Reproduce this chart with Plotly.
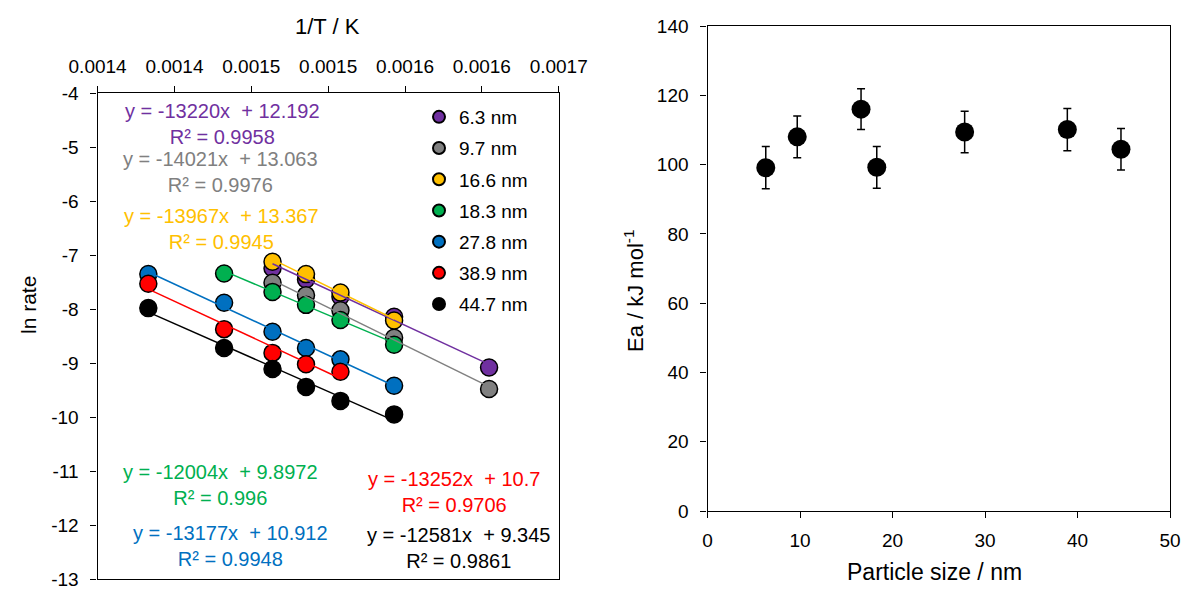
import plotly.graph_objects as go

W, H = 1185, 593
FONT = "Liberation Sans, Arial, sans-serif"

# ---- Arrhenius plot data (left panel) ----
inv_T = [0.0013830, 0.0014323, 0.0014638, 0.0014856, 0.0015080, 0.0015429, 0.0016047]

ln_rate_6_3 = [None, None, -7.24, -7.45, -7.77, -8.14, -9.08]
ln_rate_9_7 = [None, None, -7.51, -7.74, -8.02, -8.53, -9.48]
ln_rate_16_6 = [None, None, -7.12, -7.35, -7.69, -8.21, None]
ln_rate_18_3 = [None, -7.34, -7.68, -7.92, -8.20, -8.66, None]
ln_rate_27_8 = [-7.35, -7.88, -8.42, -8.72, -8.93, -9.42, None]
ln_rate_38_9 = [-7.53, -8.37, -8.81, -9.02, -9.16, None, None]
ln_rate_44_7 = [-7.98, -8.72, -9.11, -9.44, -9.70, -9.95, None]

series_names = ["6.3 nm", "9.7 nm", "16.6 nm", "18.3 nm", "27.8 nm", "38.9 nm", "44.7 nm"]
series_colors = ["#7030A0", "#808080", "#FFC000", "#00B050", "#0070C0", "#FF0000", "#000000"]

# linear fits  ln(rate) = slope * (1/T) + intercept
slopes = [-13220, -14021, -13967, -12004, -13177, -13252, -12581]
intercepts = [12.192, 13.063, 13.367, 9.8972, 10.912, 10.7, 9.345]
r_squared = [0.9958, 0.9976, 0.9945, 0.996, 0.9948, 0.9706, 0.9861]

x_tickvals = [0.00135, 0.00140, 0.00145, 0.00150, 0.00155, 0.00160, 0.00165]
x_ticktext = ["0.0014", "0.0014", "0.0015", "0.0015", "0.0016", "0.0016", "0.0017"]
y_tickvals = [-4, -5, -6, -7, -8, -9, -10, -11, -12, -13]
y_ticktext = ["-4", "-5", "-6", "-7", "-8", "-9", "-10", "-11", "-12", "-13"]

# ---- activation energy vs particle size (right panel) ----
particle_size = [6.3, 9.7, 16.6, 18.3, 27.8, 38.9, 44.7]
Ea = [99.1, 108.0, 116.0, 99.2, 109.4, 110.1, 104.4]
Ea_err = [6.1, 6.0, 5.9, 6.0, 6.0, 6.1, 6.0]

all_series = [ln_rate_6_3, ln_rate_9_7, ln_rate_16_6, ln_rate_18_3,
              ln_rate_27_8, ln_rate_38_9, ln_rate_44_7]


def paper(px, py):
    return px / W, 1 - py / H


fig = go.Figure()

# markers
for name, col, ys in zip(series_names, series_colors, all_series):
    xs = [x for x, y in zip(inv_T, ys) if y is not None]
    yv = [y for y in ys if y is not None]
    fig.add_trace(go.Scatter(
        x=xs, y=yv, mode="markers", name=name,
        legendgroup=name,
        marker=dict(size=17, color=col, line=dict(color="#000", width=1.5)),
        xaxis="x", yaxis="y",
    ))

# trend lines on top of the markers
for name, col, ys, m, b in zip(series_names, series_colors, all_series, slopes, intercepts):
    xs = [x for x, y in zip(inv_T, ys) if y is not None]
    x_ends = [min(xs), max(xs)]
    fig.add_trace(go.Scatter(
        x=x_ends, y=[m * x + b for x in x_ends], mode="lines",
        line=dict(color=col, width=1.5), showlegend=False,
        hoverinfo="skip", xaxis="x", yaxis="y",
    ))

# right panel
fig.add_trace(go.Scatter(
    x=particle_size, y=Ea, mode="markers", showlegend=False,
    marker=dict(size=19, color="#000"),
    error_y=dict(type="data", array=Ea_err, color="#000", thickness=1.5, width=4),
    xaxis="x2", yaxis="y2",
))

axis_common = dict(
    showgrid=False, zeroline=False, showline=True, linecolor="#000", linewidth=1.3,
    mirror=True, ticks="outside", ticklen=6, tickwidth=1.3, tickcolor="#000",
    tickfont=dict(family=FONT, size=19, color="#000"),
)

fig.update_layout(
    width=W, height=H,
    margin=dict(l=0, r=0, t=0, b=0),
    paper_bgcolor="white", plot_bgcolor="white",
    font=dict(family=FONT, size=19, color="#000"),
    xaxis=dict(domain=[97.6 / W, 558.7 / W], anchor="y", side="top",
               range=[0.00135, 0.00165], tickvals=x_tickvals, ticktext=x_ticktext,
               automargin=False, ticklabelstandoff=6, **axis_common),
    yaxis=dict(domain=[1 - 579 / H, 1 - 93.3 / H], anchor="x",
               range=[-13, -4], tickvals=y_tickvals, ticktext=y_ticktext,
               automargin=False, ticklabelstandoff=8, **axis_common),
    xaxis2=dict(domain=[707.5 / W, 1170 / W], anchor="y2",
                range=[0, 50], dtick=10, automargin=False, ticklabelstandoff=6,
                **axis_common),
    yaxis2=dict(domain=[1 - 511 / H, 1 - 26 / H], anchor="x2",
                range=[0, 140], dtick=20, automargin=False, ticklabelstandoff=8,
                **axis_common),
    legend=dict(x=419 / W, y=1 - 98 / H, xanchor="left", yanchor="top",
                bgcolor="rgba(0,0,0,0)", itemsizing="constant",
                tracegroupgap=3.5, font=dict(family=FONT, size=19, color="#000")),
    showlegend=True,
)

annotations = []

# fit equations
eq_centers = [(222, 123.5), (220, 172), (221, 229), (220.5, 484.5),
              (230.5, 545.5), (454, 492), (458, 548)]
for (cx, cy), col, m, b, r2 in zip(eq_centers, series_colors, slopes, intercepts, r_squared):
    ax, ay = paper(cx, cy)
    annotations.append(dict(
        x=ax, y=ay, xref="paper", yref="paper", xanchor="center", yanchor="middle",
        text=f"y = {m}x  + {b:.5g}<br>R² = {r2:g}", showarrow=False, align="center",
        font=dict(family=FONT, size=20, color=col),
    ))

# axis titles
for text, (cx, cy), angle, size in [
    ("1/T / K", (327.6, 26), 0, 22),
    ("ln rate", (28, 305), -90, 21),
    ("Particle size / nm", (934, 572), 0, 23),
    ("Ea / kJ mol<sup>-1</sup>", (634, 291), -90, 22),
]:
    ax, ay = paper(cx, cy)
    annotations.append(dict(
        x=ax, y=ay, xref="paper", yref="paper", xanchor="center", yanchor="middle",
        text=text, textangle=angle, showarrow=False,
        font=dict(family=FONT, size=size, color="#000"),
    ))

fig.update_layout(annotations=annotations)

fig.write_html("out.html")
